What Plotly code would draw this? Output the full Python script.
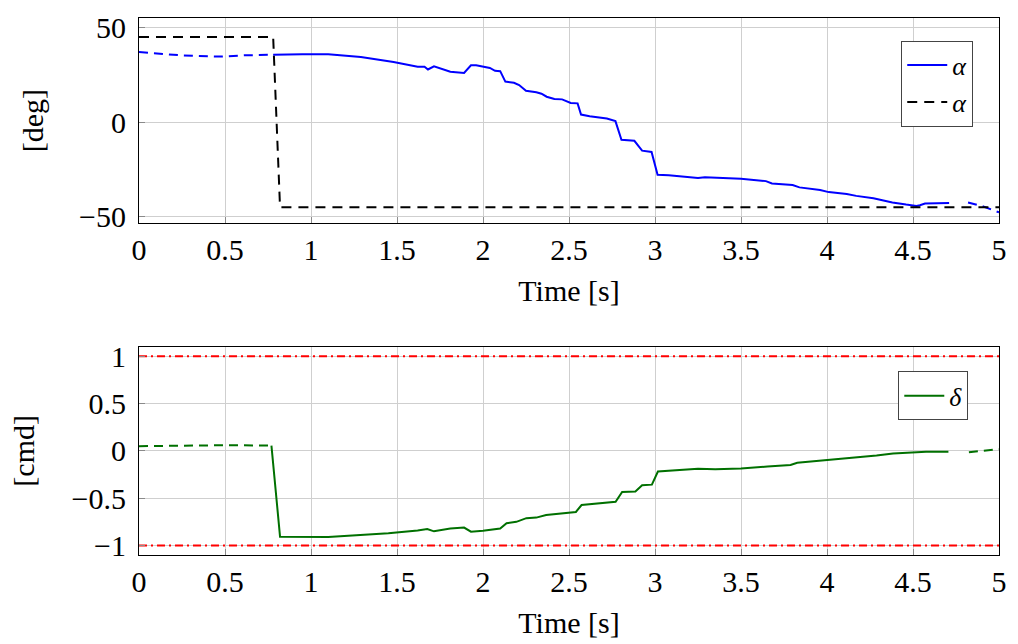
import plotly.graph_objects as go

# ---- data ----
alpha_t_pre = [0.0, 0.24, 0.47, 0.62, 0.78]
alpha_pre = [37.0, 35.3, 34.6, 35.3, 35.6]

alpha_t = [0.78, 0.82, 0.95, 1.1, 1.29, 1.48, 1.58, 1.62, 1.66, 1.68, 1.715, 1.75, 1.81, 1.89,
           1.93, 1.96, 2.0, 2.04, 2.07, 2.1, 2.13, 2.18, 2.21, 2.25, 2.31, 2.34, 2.37, 2.415,
           2.46, 2.51, 2.55, 2.57, 2.62, 2.675, 2.72, 2.77, 2.805, 2.88, 2.925, 2.98, 3.015,
           3.08, 3.155, 3.25, 3.29, 3.35, 3.5, 3.645, 3.68, 3.8, 3.84, 3.96, 4.01, 4.115, 4.17,
           4.27, 4.38, 4.46, 4.52, 4.54, 4.57, 4.71]
alpha = [35.6, 35.7, 35.8, 35.9, 34.4, 31.8, 30.0, 29.2, 29.2, 27.8, 29.5, 28.3, 26.6, 26.0,
         30.0, 30.0, 29.2, 28.6, 27.1, 26.9, 21.4, 20.8, 19.6, 16.5, 15.8, 15.0, 13.4, 12.2,
         12.0, 10.1, 9.9, 4.0, 3.1, 2.4, 1.9, 0.5, -9.4, -9.9, -15.1, -15.8, -27.8,
         -28.1, -28.6, -29.5, -29.1, -29.3, -30.0, -31.2, -32.4, -33.3, -34.5, -35.9, -37.0, -38.0, -39.0,
         -40.3, -42.5, -43.6, -44.3, -43.9, -43.0, -42.8]

alpha_t_post = [4.82, 4.9, 5.0]
alpha_post = [-42.5, -44.3, -47.7]

ref_t = [0.0, 0.78, 0.82, 5.0]
alpha_ref = [45.0, 45.0, -45.0, -45.0]

delta_t_pre = [0.0, 0.5, 0.77]
delta_pre = [0.049, 0.06, 0.056]

delta_t = [0.77, 0.82, 1.1, 1.45, 1.62, 1.676, 1.715, 1.81, 1.89, 1.93, 2.0, 2.1, 2.137, 2.194,
           2.252, 2.31, 2.367, 2.464, 2.54, 2.573, 2.694, 2.771, 2.809, 2.886, 2.925, 2.982,
           3.017, 3.155, 3.25, 3.35, 3.5, 3.654, 3.788, 3.827, 4.0, 4.153, 4.288, 4.384, 4.5,
           4.576, 4.706]
delta = [0.056, -0.906, -0.91, -0.87, -0.84, -0.826, -0.85, -0.82, -0.81, -0.854, -0.845, -0.82,
         -0.764, -0.75, -0.711, -0.705, -0.677, -0.663, -0.645, -0.572, -0.555, -0.538, -0.434,
         -0.43, -0.364, -0.357, -0.218, -0.204, -0.19, -0.194, -0.187, -0.166, -0.149, -0.125,
         -0.097, -0.073, -0.048, -0.027, -0.014, -0.01, -0.01]

delta_t_post = [4.825, 4.92, 5.0]
delta_post = [-0.014, 0.0, 0.018]

limit_t = [0.0, 5.0]
limit_hi = [1.0, 1.0]
limit_lo = [-1.0, -1.0]

x_ticks = [0, 0.5, 1, 1.5, 2, 2.5, 3, 3.5, 4, 4.5, 5]
x_ticktext = ["0", "0.5", "1", "1.5", "2", "2.5", "3", "3.5", "4", "4.5", "5"]
y1_ticks = [-50, 0, 50]
y2_ticks = [-1, -0.5, 0, 0.5, 1]

BLUE = "#0000ff"
GREEN = "#007000"
FONT = "'Liberation Serif', 'DejaVu Serif', 'Noto Serif', Tinos, 'Times New Roman', FreeSerif, serif"
FS = 30

fig = go.Figure()

# top panel
fig.add_trace(go.Scatter(x=alpha_t_pre, y=alpha_pre, mode="lines", xaxis="x", yaxis="y",
                         line=dict(color=BLUE, width=2, dash="9px,6px"), showlegend=False))
fig.add_trace(go.Scatter(x=alpha_t, y=alpha, mode="lines", xaxis="x", yaxis="y",
                         line=dict(color=BLUE, width=2), name="<i>α</i>", legend="legend"))
fig.add_trace(go.Scatter(x=alpha_t_post, y=alpha_post, mode="lines", xaxis="x", yaxis="y",
                         line=dict(color=BLUE, width=2, dash="9px,6px"), showlegend=False))
fig.add_trace(go.Scatter(x=ref_t, y=alpha_ref, mode="lines", xaxis="x", yaxis="y",
                         line=dict(color="black", width=2, dash="10px,7px"), name="<i>α</i>",
                         legend="legend"))

# bottom panel
fig.add_trace(go.Scatter(x=limit_t, y=limit_hi, mode="lines", xaxis="x2", yaxis="y2",
                         line=dict(color="red", width=2, dash="8px,4px,2px,4px"), showlegend=False))
fig.add_trace(go.Scatter(x=limit_t, y=limit_lo, mode="lines", xaxis="x2", yaxis="y2",
                         line=dict(color="red", width=2, dash="8px,4px,2px,4px"), showlegend=False))
fig.add_trace(go.Scatter(x=delta_t_pre, y=delta_pre, mode="lines", xaxis="x2", yaxis="y2",
                         line=dict(color=GREEN, width=2, dash="9px,6px"), showlegend=False))
fig.add_trace(go.Scatter(x=delta_t, y=delta, mode="lines", xaxis="x2", yaxis="y2",
                         line=dict(color=GREEN, width=2), name="<i>δ</i>", legend="legend2"))
fig.add_trace(go.Scatter(x=delta_t_post, y=delta_post, mode="lines", xaxis="x2", yaxis="y2",
                         line=dict(color=GREEN, width=2, dash="9px,6px"), showlegend=False))

W, H = 1018, 644
ml, mr, mt, mb = 139, 11, 12, 88
ph = H - mt - mb
pw = W - ml - mr

def dom(top_px, bot_px):
    return [(H - mb - bot_px) / ph, (H - mb - top_px) / ph]

axis_common = dict(
    showline=True, linecolor="black", linewidth=1, mirror=True,
    showgrid=True, gridcolor="#cfcfcf", gridwidth=1,
    ticks="inside", ticklen=6, tickcolor="#8a8a8a", tickwidth=1,
    zeroline=False, tickfont=dict(family=FONT, size=FS, color="black"),
)

fig.update_layout(
    width=W, height=H,
    margin=dict(l=ml, r=mr, t=mt, b=mb),
    plot_bgcolor="white", paper_bgcolor="white",
    font=dict(family=FONT, size=FS, color="black"),
    xaxis=dict(axis_common, domain=[0, 1], range=[0, 5], anchor="y",
               tickvals=x_ticks, ticktext=x_ticktext, ticklabelstandoff=0,
               title=dict(text="Time [s]", font=dict(family=FONT, size=FS), standoff=14)),
    yaxis=dict(axis_common, domain=dom(12, 220), range=[-53.5, 55], anchor="x",
               tickvals=y1_ticks, ticklabelstandoff=6,
               title=dict(text="[deg]", font=dict(family=FONT, size=FS), standoff=26)),
    xaxis2=dict(axis_common, domain=[0, 1], range=[0, 5], anchor="y2",
                tickvals=x_ticks, ticktext=x_ticktext, ticklabelstandoff=0,
                title=dict(text="Time [s]", font=dict(family=FONT, size=FS), standoff=14)),
    yaxis2=dict(axis_common, domain=dom(345, 556), range=[-1.1, 1.1], anchor="x2",
                tickvals=y2_ticks, ticklabelstandoff=6,
                title=dict(text="[cmd]", font=dict(family=FONT, size=FS), standoff=28)),
    legend=dict(x=(981 - ml) / pw, y=(H - mb - 35) / ph, xanchor="right", yanchor="top",
                bgcolor="white", bordercolor="#444444", borderwidth=1,
                font=dict(family=FONT, size=26), tracegroupgap=0, itemwidth=40),
    legend2=dict(x=(976 - ml) / pw, y=(H - mb - 370) / ph, xanchor="right", yanchor="top",
                 bgcolor="white", bordercolor="#444444", borderwidth=1,
                 font=dict(family=FONT, size=26), itemwidth=40),
    showlegend=True,
)

fig.write_html("out.html")
